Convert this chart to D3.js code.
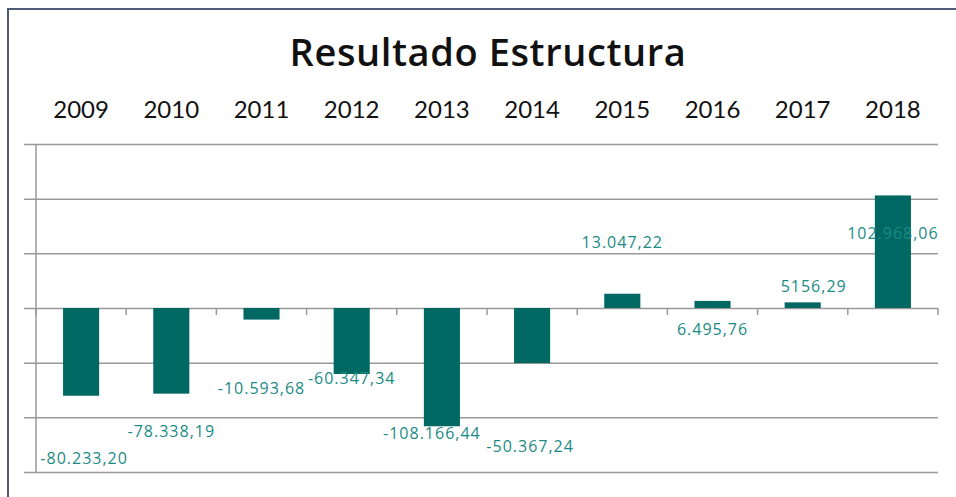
<!DOCTYPE html>
<html>
<head>
    <meta charset="utf-8">
    <title>Resultado Estructura</title>
    <script src="https://d3js.org/d3.v7.min.js"></script>
    <style>
        body {
            margin: 0;
            padding: 0;
            background-color: #ffffff;
            font-family: Lato, sans-serif;
        }
        .grid line { stroke: #999999; stroke-width: 1.5px; }
        .grid path { display: none; }
    </style>
</head>
<body>
    <div id="chart"></div>

    <script>
        // Data
        const years = ["2009", "2010", "2011", "2012", "2013", "2014", "2015", "2016", "2017", "2018"];
        const values = [-80233.20, -78338.19, -10593.68, -60347.34, -108166.44, -50367.24, 13047.22, 6495.76, 5156.29, 102968.06];
        const labels = ["-80.233,20", "-78.338,19", "-10.593,68", "-60.347,34", "-108.166,44",
                        "-50.367,24", "13.047,22", "6.495,76", "5156,29", "102.968,06"];
        const yTicks = [-150000, -100000, -50000, 0, 50000, 100000, 150000];
        // where each data label sits (in value units, like Excel's label placement)
        const labelAt = [-142600, -117900, -78600, -69500, -119700, -131600, 54800, -24700, 14600, 63100];
        const labelDx = [3, 0, 0, 0, -10, -2, 0, 0, 11, 0];

        const W = 956, H = 497;
        const margin = { top: 144, right: 18, bottom: 25, left: 36 };
        const width = W - margin.left - margin.right;
        const height = 472 - margin.top;

        const svg = d3.select("#chart")
            .append("svg")
            .attr("width", W)
            .attr("height", H);

        // outer chart frame
        svg.append("rect")
            .attr("x", 8).attr("y", 9)
            .attr("width", W + 10).attr("height", H + 10)
            .attr("fill", "none")
            .attr("stroke", "#4f5b78")
            .attr("stroke-width", 2);

        const g = svg.append("g")
            .attr("transform", `translate(${margin.left},${margin.top})`);

        const x = d3.scaleBand()
            .domain(years)
            .range([0, width])
            .paddingInner(0.6)
            .paddingOuter(0.3);

        const y = d3.scaleLinear()
            .domain([-150000, 150000])
            .range([height, 0]);

        // horizontal gridlines (with left ticks sticking out)
        g.append("g")
            .attr("class", "grid")
            .call(d3.axisLeft(y).tickValues(yTicks).tickSize(-width - 12).tickFormat(""))
            .attr("transform", "translate(-12,0)")
            .selectAll("line")
            .attr("x1", 0);

        // vertical axis line
        g.append("line")
            .attr("x1", 0).attr("x2", 0)
            .attr("y1", 0).attr("y2", height)
            .attr("stroke", "#999999")
            .attr("stroke-width", 1.5);

        // tick marks between categories on the zero line
        const step = x.step();
        const bounds = d3.range(years.length + 1).map(i => x(years[0]) - x.paddingOuter() * step + i * step);
        g.selectAll(".cat-tick")
            .data(bounds)
            .enter()
            .append("line")
            .attr("x1", d => d).attr("x2", d => d)
            .attr("y1", y(0)).attr("y2", y(0) + 7)
            .attr("stroke", "#999999")
            .attr("stroke-width", 1.5);

        // bars
        g.selectAll("rect.bar")
            .data(values)
            .enter()
            .append("rect")
            .attr("class", "bar")
            .attr("x", (d, i) => x(years[i]))
            .attr("y", d => y(Math.max(0, d)))
            .attr("width", x.bandwidth())
            .attr("height", d => Math.abs(y(d) - y(0)))
            .attr("fill", "#006862");

        // data labels
        g.selectAll("text.val")
            .data(labels)
            .enter()
            .append("text")
            .attr("class", "val")
            .attr("x", (d, i) => x(years[i]) + x.bandwidth() / 2 + labelDx[i])
            .attr("y", (d, i) => y(labelAt[i]))
            .attr("text-anchor", "middle")
            .style("font-family", "Open Sans, sans-serif")
            .style("font-size", "16px")
            .style("font-weight", "500")
            .style("letter-spacing", "1px")
            .style("fill", "#1b8a84")
            .text(d => d);

        // category labels on top
        g.selectAll("text.cat")
            .data(years)
            .enter()
            .append("text")
            .attr("class", "cat")
            .attr("x", d => x(d) + x.bandwidth() / 2)
            .attr("y", 118 - margin.top)
            .attr("text-anchor", "middle")
            .style("font-size", "24px")
            .style("fill", "#111111")
            .text(d => d);

        // title
        svg.append("text")
            .attr("x", 488)
            .attr("y", 66)
            .attr("text-anchor", "middle")
            .style("font-family", "Open Sans, sans-serif")
            .style("font-size", "38px")
            .style("font-weight", "600")
            .style("letter-spacing", "0.6px")
            .style("fill", "#111111")
            .text("Resultado Estructura");
    </script>
</body>
</html>
